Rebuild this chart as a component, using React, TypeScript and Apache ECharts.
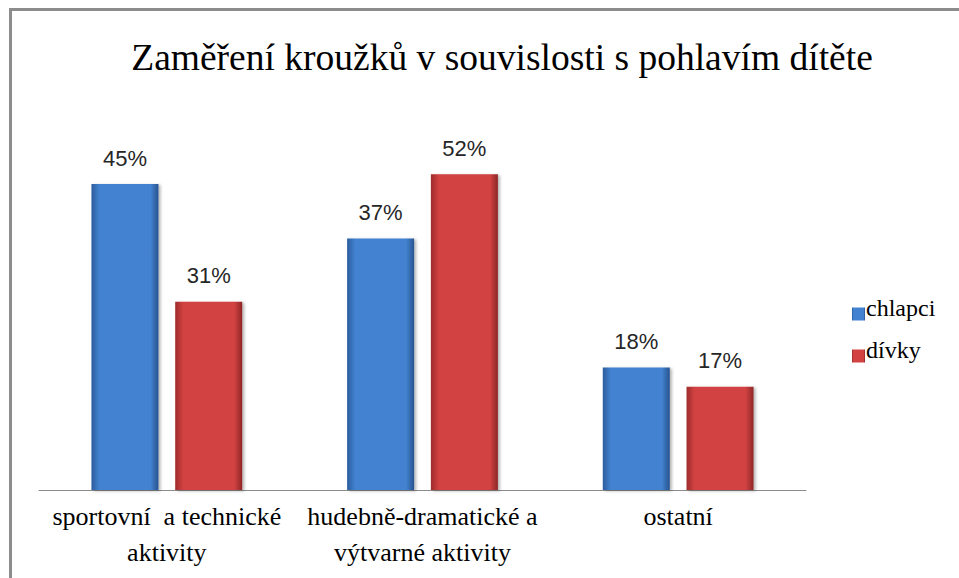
import React, { useEffect, useRef } from "react";
import * as echarts from "echarts";

const titleText = "Zaměření kroužků v souvislosti s pohlavím dítěte";
const categories = [
  "sportovní  a technické\naktivity",
  "hudebně-dramatické a\nvýtvarné aktivity",
  "ostatní",
];
const seriesNames = ["chlapci", "dívky"];
const chlapci = [45, 37, 18];
const divky = [31, 52, 17];

const SERIF_FONT = (px: number) => `${px}px "Liberation Serif"`;
const SANS = "Liberation Sans";

const blueGrad = () =>
  new echarts.graphic.LinearGradient(0, 0, 1, 0, [
    { offset: 0, color: "#2b5c9e" },
    { offset: 0.12, color: "#4282d0" },
    { offset: 0.88, color: "#4282d0" },
    { offset: 1, color: "#28548f" },
  ]);
const redGrad = () =>
  new echarts.graphic.LinearGradient(0, 0, 1, 0, [
    { offset: 0, color: "#9e2b2b" },
    { offset: 0.12, color: "#d24242" },
    { offset: 0.88, color: "#d24242" },
    { offset: 1, color: "#8f2626" },
  ]);

export default function App() {
  const ref = useRef<HTMLDivElement>(null);
  useEffect(() => {
    if (!ref.current) return;
    const chart = echarts.init(ref.current, null, { renderer: "svg" });
    const labelStyle = {
      show: true,
      position: "top" as const,
      distance: 15,
      formatter: "{c}%",
      fontFamily: SANS,
      fontSize: 22,
      color: "#262626",
    };
    const legendLeft = 847;
    const legendTop = 297;
    const legendRow = 24;
    const legendGap = 18;
    chart.setOption({
      animation: false,
      backgroundColor: "#ffffff",
      legend: {
        orient: "vertical",
        left: legendLeft,
        top: legendTop,
        itemWidth: 13,
        itemHeight: 13,
        itemGap: legendGap,
        icon: "rect",
        data: seriesNames,
        formatter: () => " ",
        textStyle: { fontSize: 24, lineHeight: legendRow, color: "#000" },
      },
      grid: { left: 39, right: 153, top: 150, bottom: 88, containLabel: false },
      xAxis: {
        type: "category",
        data: categories,
        axisLine: { show: true, lineStyle: { color: "#8c8c8c", width: 1 } },
        axisTick: { show: false },
        axisLabel: { show: false },
      },
      yAxis: [
        { type: "value", min: 0, max: 50, show: false, splitLine: { show: false } },
        { type: "value", min: 0, max: 56, show: false, splitLine: { show: false } },
      ],
      series: [
        {
          name: seriesNames[0],
          type: "bar",
          yAxisIndex: 0,
          data: chlapci,
          barWidth: 67,
          barGap: "25%",
          itemStyle: {
            color: blueGrad(),
            shadowBlur: 3,
            shadowColor: "rgba(0,0,0,0.3)",
            shadowOffsetX: 2,
            shadowOffsetY: 1,
          },
          label: labelStyle,
        },
        {
          name: seriesNames[1],
          type: "bar",
          yAxisIndex: 1,
          data: divky,
          barWidth: 67,
          barGap: "25%",
          itemStyle: {
            color: redGrad(),
            shadowBlur: 3,
            shadowColor: "rgba(0,0,0,0.3)",
            shadowOffsetX: 2,
            shadowOffsetY: 1,
          },
          label: labelStyle,
        },
      ],
    });

    const axisY = chart.convertToPixel({ yAxisIndex: 0 }, 0) as number;
    const catLabels = categories.map((c, i) => {
      const x = chart.convertToPixel({ xAxisIndex: 0 }, i) as number;
      return {
        type: "text",
        x,
        y: axisY + 8,
        style: {
          text: c,
          font: SERIF_FONT(26),
          lineHeight: 36,
          fill: "#000000",
          textAlign: "center",
          textVerticalAlign: "top",
        },
      };
    });
    const legendTexts = seriesNames.map((n, i) => ({
      type: "text",
      x: legendLeft + 19,
      y: legendTop + legendRow / 2 + i * (legendRow + legendGap) - 1,
      style: {
        text: n,
        font: SERIF_FONT(24),
        fill: "#000000",
        textAlign: "left",
        textVerticalAlign: "middle",
      },
    }));

    chart.setOption({
      graphic: [
        {
          type: "polyline",
          shape: { points: [[10.5, 578], [10.5, 9.5], [959, 9.5]] },
          style: { stroke: "#8c8c8c", lineWidth: 3, fill: null },
        },
        {
          type: "text",
          x: 502,
          y: 57,
          style: {
            text: titleText,
            font: SERIF_FONT(37.5),
            fill: "#000000",
            textAlign: "center",
            textVerticalAlign: "middle",
          },
        },
        ...catLabels,
        ...legendTexts,
      ],
    });
    return () => chart.dispose();
  }, []);
  return (
    <div style={{ position: "fixed", left: 0, top: 0, width: 959, height: 578 }}>
      <div ref={ref} style={{ width: 959, height: 578 }} />
    </div>
  );
}
